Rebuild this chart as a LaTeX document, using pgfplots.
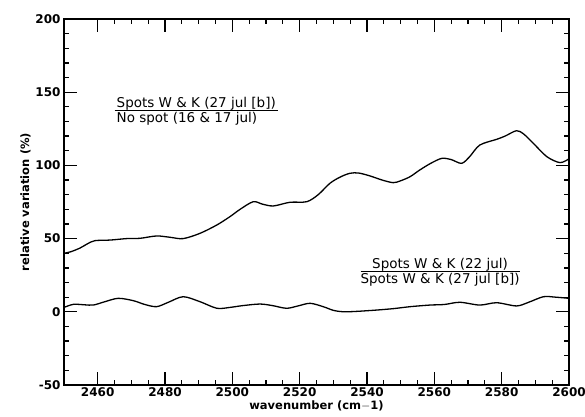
\documentclass[border=0pt]{standalone}
\usepackage{fontspec}
\setmainfont{DejaVu Sans}
\usepackage{pgfplots}
\pgfplotsset{compat=1.18}
\usetikzlibrary{calc}
\begin{document}
\begin{tikzpicture}
\begin{axis}[name=ax,
  scale only axis, width=505bp, height=366bp,
  xmin=2450, xmax=2600, ymin=-50, ymax=200,
  xtick={2460,2480,...,2600}, ytick={-50,0,...,200},
  minor x tick num=3, minor y tick num=4,
  tick align=inside, major tick length=13bp, minor tick length=5bp,
  axis line style={line width=1.6bp}, tick style={line width=1.3bp, black},
  every tick/.style={line width=1.3bp},
  /pgf/number format/assume math mode=true,
  /pgf/number format/set thousands separator={},
  ticklabel style={font=\fontsize{12bp}{12bp}\selectfont\bfseries},
  xticklabel style={text height=8.8bp, text depth=0bp, inner ysep=0bp, yshift=-2bp},
  xlabel={wavenumber (cm$-$1)},
  ylabel={relative variation (\%)},
  label style={font=\fontsize{11.5bp}{12bp}\selectfont\bfseries},
  xlabel style={text height=8.5bp, text depth=2bp, inner ysep=0bp, yshift=-5bp},
  ylabel style={yshift=-2bp},
  clip=true,
]
\addplot[black, line width=1.3bp, smooth, tension=0.5] coordinates {
(2450,40) (2452,41) (2454.8,43.6) (2457,46.5) (2459.2,48.6) (2463.7,49)
(2468.6,50) (2472.6,50.2) (2477.5,51.8) (2481.5,50.9) (2485.4,50)
(2490.4,53.6) (2495.4,59.3) (2499.3,65) (2502.3,70) (2506.2,75.2)
(2509,73.5) (2512.2,72.3) (2517.1,74.8) (2522.1,75.2) (2525.5,80)
(2529,87.8) (2532,92) (2534.9,94.6) (2537.5,94.8) (2540.9,92.8)
(2544.5,90) (2547.8,88.2) (2550,89.5) (2552.8,92.3) (2555.7,96.9)
(2559,101.5) (2562.2,104.8) (2565,104) (2568.1,101.4) (2570.5,106)
(2573.5,113.9) (2578.5,117.8) (2581,120) (2584.4,123.7) (2586.5,121.5)
(2589.4,115.1) (2593.4,106) (2597.3,101.9) (2600,104.5)
};
\addplot[black, line width=1.3bp, smooth, tension=0.5] coordinates {
(2450,3) (2452.8,5.1) (2456,4.8) (2458.7,4.6) (2462,6.8) (2466.1,9.2)
(2470.6,7.6) (2474,5) (2477.5,3.5) (2481,6.5) (2485.4,10.3) (2490.4,6.9)
(2495.4,2.4) (2499.3,3) (2503,4.2) (2508.2,5.3) (2512,4.2) (2516.1,2.4)
(2519.5,4) (2523.1,5.8) (2527,3.5) (2530,1) (2533,0) (2537,0.3)
(2542.9,1.2) (2548,2.2) (2552.8,3.5) (2558.7,4.6) (2563,5) (2567.6,6.5)
(2573.5,4.6) (2578.5,6.2) (2584.4,4) (2588,6.5) (2592.4,10.3) (2596,10)
(2600,9.2)
};
\node[anchor=west, inner sep=0pt, font=\fontsize{13.5bp}{14bp}\selectfont] at (axis cs:2465,136.5)
  {\begin{tabular}{@{\hspace{2bp}}l@{\hspace{2bp}}}Spots W \& K (27 jul [b])\\[-1bp]\hline\rule{0pt}{12bp}No spot (16 \& 17 jul)\end{tabular}};
\node[inner sep=0pt, font=\fontsize{13.5bp}{14bp}\selectfont] at (axis cs:2561.7,26.5)
  {\begin{tabular}{@{}c@{}}Spots W \& K (22 jul)\\[-1bp]\hline\rule{0pt}{12bp}Spots W \& K (27 jul [b])\end{tabular}};
\end{axis}
\pgfresetboundingbox
\path ($(ax.south west)+(-64bp,-32bp)$) rectangle ($(ax.north east)+(16bp,19bp)$);
\end{tikzpicture}
\end{document}
